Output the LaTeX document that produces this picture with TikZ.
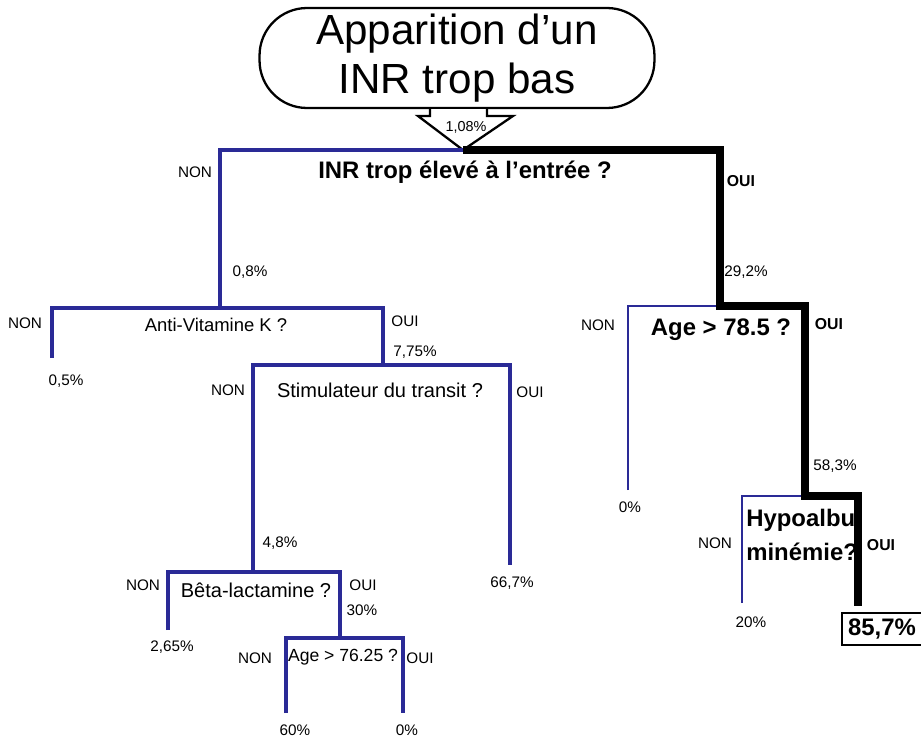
\documentclass[tikz,border=0pt]{standalone}
\usepackage{fontspec}
\setmainfont{Liberation Sans}
\definecolor{nonblue}{RGB}{42,42,150}

\begin{document}
\begin{tikzpicture}[
    x=0.02cm, y=-0.02cm,
    terminal/.style={rectangle, draw, line width=1.3pt, rounded corners=0.95cm,
                     minimum width=7.9cm, minimum height=2cm, align=center,
                     font=\fontsize{24}{27.8}\selectfont},
    nonline/.style={draw=nonblue, line width=1.9pt},
    ouiline/.style={draw=black, line width=4.6pt, line join=miter},
    lab/.style={inner sep=0pt, font=\fontsize{8.7}{10}\selectfont},
    blab/.style={inner sep=0pt, font=\bfseries\fontsize{9}{10}\selectfont},
    ques/.style={inner sep=0pt, font=\fontsize{11.4}{13}\selectfont},
    bques/.style={inner sep=0pt, align=left, font=\bfseries\fontsize{13.6}{19.3}\selectfont},
    final/.style={rectangle, draw, line width=1.1pt, minimum width=1.56cm,
                  minimum height=0.62cm, font=\bfseries\fontsize{13.6}{16}\selectfont},
]
\useasboundingbox (0,0) rectangle (921,738);

% Start
\node[terminal] (start) at (457,58) {Apparition d’un\\INR trop bas};

% Split points
\coordinate (root) at (463,150);
\coordinate (avk) at (220,308);
\coordinate (leafA) at (52,358);
\coordinate (stim) at (383,365);
\coordinate (leafB) at (510,565);
\coordinate (beta) at (253,572);
\coordinate (leafC) at (168,630);
\coordinate (agey) at (340,638);
\coordinate (leafD) at (286,713);
\coordinate (leafE) at (403,713);
\coordinate (age) at (720,306);
\coordinate (leafF) at (628,490);
\coordinate (hypo) at (805,496);
\coordinate (leafG) at (742,603);
\coordinate (leafH) at (858,606);

% Block arrow
\draw[line width=1.3pt, fill=white] (430,109) -- (430,116) -- (418,116) -- (root)
    -- (513,116) -- (487,116) -- (487,109);
\node[lab, font=\fontsize{8.2}{10}\selectfont] (p108) at (466,127) {1,08\%};

% NON branches
\draw[nonline] (root) -| (avk);
\draw[nonline] (leafA) |- (avk) -| (stim);
\draw[nonline] (beta) |- (stim) -| (leafB);
\draw[nonline] (leafC) |- (beta) -| (agey);
\draw[nonline] (leafD) |- (agey) -| (leafE);
\draw[nonline, line width=1.4pt] (leafF) |- (age);
\draw[nonline, line width=1.4pt] (leafG) |- (hypo);

% OUI path
\draw[ouiline] (root) -| (age) -| (hypo) -| (leafH);

% Questions
\node[bques] (q1) at (465,172) {INR trop élevé à l’entrée ?};
\node[ques, font=\fontsize{10.5}{13}\selectfont] (q2) at (216,325) {Anti-Vitamine K ?};
\node[ques] (q3) at (380,390) {Stimulateur du transit ?};
\node[ques] (q4) at (256,590) {Bêta-lactamine ?};
\node[ques, font=\fontsize{10}{12}\selectfont] (q5) at (343,657) {Age > 76.25 ?};
\node[bques] (q6) at (721,330) {Age > 78.5 ?};
\node[bques, anchor=west] (q7) at (746,535) {Hypoalbu-\\minémie?};

% Answers
\node[lab] (n1) at (195,172) {NON};
\node[blab] (o1) at (741,181) {OUI};
\node[lab] (n2) at (25,323) {NON};
\node[lab] (o2) at (405,321) {OUI};
\node[lab] (n3) at (228,390) {NON};
\node[lab] (o3) at (530,392) {OUI};
\node[lab] (n4) at (143,585) {NON};
\node[lab] (o4) at (363,585) {OUI};
\node[lab] (n5) at (255,658) {NON};
\node[lab] (o5) at (420,658) {OUI};
\node[lab] (n6) at (598,325) {NON};
\node[blab] (o6) at (829,324) {OUI};
\node[lab] (n7) at (715,543) {NON};
\node[blab] (o7) at (881,545) {OUI};

% Rates
\node[lab] (p08) at (250,272) {0,8\%};
\node[lab] (p292) at (746,272) {29,2\%};
\node[lab] (p05) at (66,381) {0,5\%};
\node[lab] (p775) at (415,352) {7,75\%};
\node[lab] (p667) at (512,583) {66,7\%};
\node[lab] (p48) at (280,543) {4,8\%};
\node[lab] (p30) at (362,610) {30\%};
\node[lab] (p265) at (172,647) {2,65\%};
\node[lab] (p60) at (295,730) {60\%};
\node[lab] (p0a) at (407,730) {0\%};
\node[lab] (p0b) at (630,507) {0\%};
\node[lab] (p583) at (835,466) {58,3\%};
\node[lab] (p20) at (751,622) {20\%};
\node[final] (res) at (882,629) {85,7\%};

\end{tikzpicture}
\end{document}
